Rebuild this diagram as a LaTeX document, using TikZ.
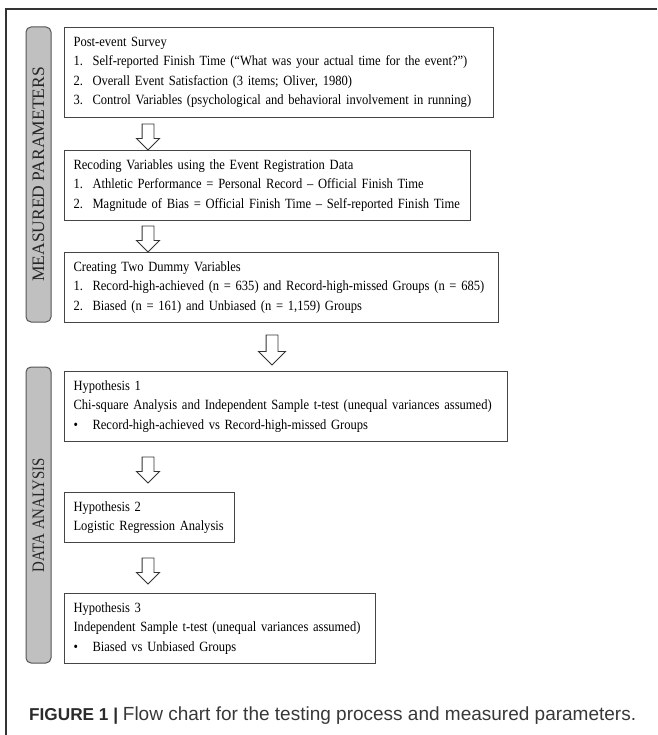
\documentclass[tikz,border=0pt]{standalone}
\usepackage{fontspec}
\setmainfont{Liberation Serif}[FakeStretch=0.89, WordSpace=0.85]
\newfontfamily\capfont{Liberation Sans}
\newfontfamily\sidefont{Liberation Serif}
\newfontfamily\sidefontc{Liberation Serif}[FakeStretch=0.85]
\usetikzlibrary{shapes.arrows}
\definecolor{framegray}{HTML}{333333}
\definecolor{boxgray}{HTML}{454545}
\definecolor{sidefill}{HTML}{C0C0C0}
\definecolor{sideline}{HTML}{555555}
\definecolor{captext}{HTML}{2B2B2B}
\newcommand{\itm}[1]{\makebox[19pt][l]{#1}}
\tikzset{
  box/.style={draw=boxgray, line width=1.1pt, anchor=north west, inner xsep=9pt, inner ysep=0pt,
    align=left, font=\fontsize{14.1}{19.5}\selectfont, text=black},
  side/.style={draw=sideline, fill=sidefill, line width=1pt, rounded corners=5pt, rotate=90,
    minimum height=25pt, inner sep=0pt, text=black!85},
  blockarrow/.style={single arrow, draw=framegray, fill=white, line width=0.9pt, shape border rotate=270,
    inner sep=5.5pt, minimum width=22pt, single arrow head extend=5.5pt, single arrow tip angle=90,
    single arrow head indent=0pt},
}
\begin{document}
\begin{tikzpicture}[x=1pt,y=-1pt]
\useasboundingbox (0,0) rectangle (657,735);
% outer frame
\draw[framegray, line width=1.2pt] (6,735) -- (6,9) -- (657,9);
% sidebars
\node[side, minimum width=295pt, font=\sidefont\fontsize{17.5}{18}\selectfont] (s1) at (38.5,174.5) {MEASURED PARAMETERS};
\node[side, minimum width=296pt, font=\sidefontc\fontsize{17.5}{18}\selectfont] (s2) at (38.5,515) {DATA ANALYSIS};
% boxes
\node[box, text width=411pt, minimum width=429pt, minimum height=90pt] (b1) at (64,27) {%
\mbox{Post-event Survey}\\
\mbox{\itm{1.}Self-reported Finish Time (“What was your actual time for the event?”)}\\
\mbox{\itm{2.}Overall Event Satisfaction (3 items; Oliver, 1980)}\\
\mbox{\itm{3.}Control Variables (psychological and behavioral involvement in running)}};
\node[box, text width=388pt, minimum width=406pt, minimum height=70pt] (b2) at (64,150) {%
\mbox{Recoding Variables using the Event Registration Data}\\
\mbox{\itm{1.}Athletic Performance = Personal Record – Official Finish Time}\\
\mbox{\itm{2.}Magnitude of Bias = Official Finish Time – Self-reported Finish Time}};
\node[box, text width=416pt, minimum width=434pt, minimum height=70pt] (b3) at (64,252) {%
\mbox{Creating Two Dummy Variables}\\
\mbox{\itm{1.}Record-high-achieved (n = 635) and Record-high-missed Groups (n = 685)}\\
\mbox{\itm{2.}Biased (n = 161) and Unbiased (n = 1,159) Groups}};
\node[box, text width=425pt, minimum width=443pt, minimum height=70pt] (b4) at (64,371) {%
\mbox{Hypothesis 1}\\
\mbox{Chi-square Analysis and Independent Sample t-test (unequal variances assumed)}\\
\mbox{\itm{•}Record-high-achieved vs Record-high-missed Groups}};
\node[box, text width=152pt, minimum width=170pt, minimum height=50pt] (b5) at (64,492) {%
\mbox{Hypothesis 2}\\
\mbox{Logistic Regression Analysis}};
\node[box, text width=293pt, minimum width=311pt, minimum height=70pt] (b6) at (64,593) {%
\mbox{Hypothesis 3}\\
\mbox{Independent Sample t-test (unequal variances assumed)}\\
\mbox{\itm{•}Biased vs Unbiased Groups}};
% block arrows
\node[blockarrow, minimum height=26pt] (a1) at (148,134) {};
\node[blockarrow, minimum height=26pt] (a2) at (148,236) {};
\node[blockarrow, minimum height=30pt, minimum width=26pt, single arrow head extend=7.5pt] (a3) at (272,347) {};
\node[blockarrow, minimum height=26pt] (a4) at (148,467) {};
\node[blockarrow, minimum height=26pt] (a5) at (148,568) {};
% caption
\node[anchor=base west, inner sep=0pt, text=captext, font=\capfont\fontsize{17.2}{20}\selectfont] (cap) at (29,720)
  {\textbf{FIGURE 1 |} {\fontsize{19}{20}\selectfont\color{black!78}Flow chart for the testing process and measured parameters.}};
\end{tikzpicture}
\end{document}
